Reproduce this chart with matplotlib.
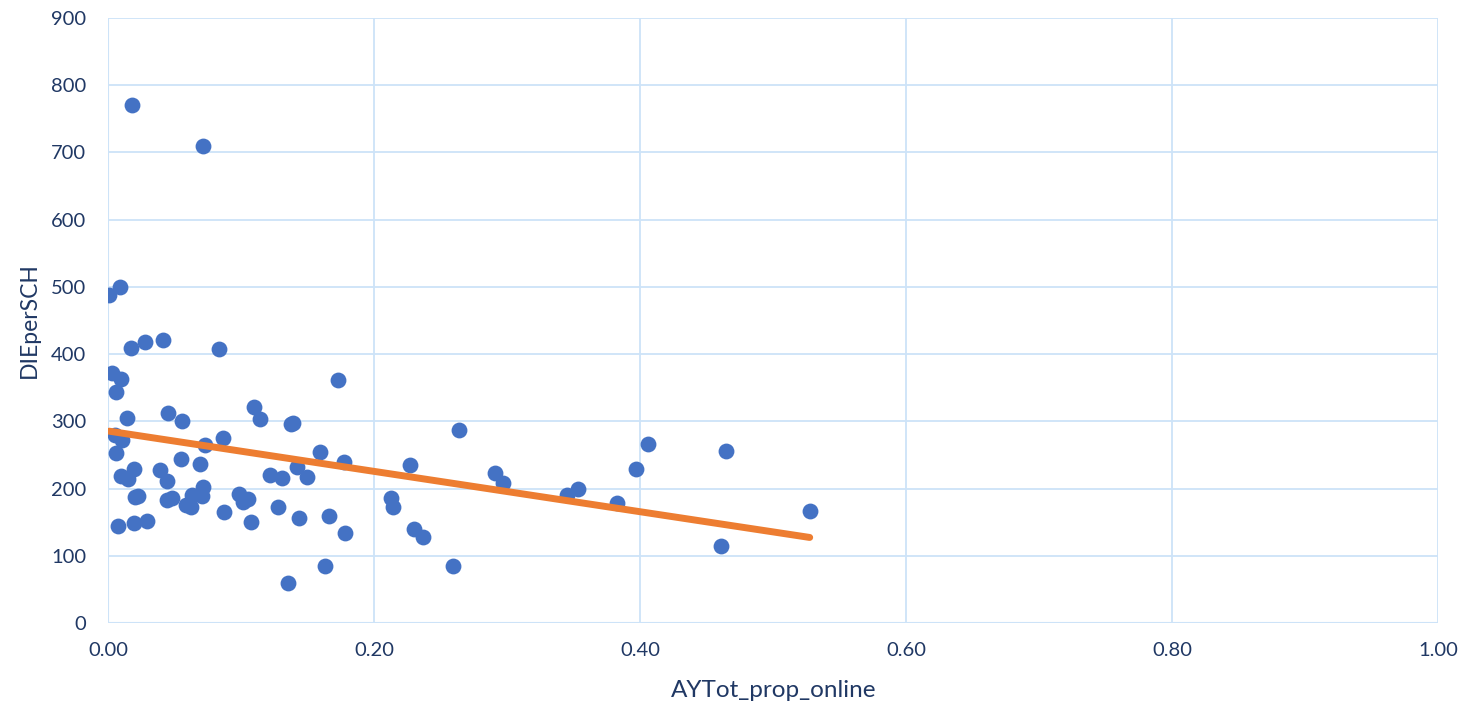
import numpy as np
import matplotlib
matplotlib.use('Agg')
import matplotlib.pyplot as plt

#=====================
# data
#=====================
prop_online = [0.018, 0.071, 0.0004, 0.0087, 0.017, 0.0274, 0.041, 0.083,
               0.0026, 0.0094, 0.0056, 0.0139, 0.045, 0.0553, 0.1094, 0.114,
               0.137, 0.139, 0.1726, 0.0056, 0.005, 0.0105, 0.0726, 0.086,
               0.2635, 0.159, 0.0545, 0.069, 0.177, 0.2267, 0.019, 0.0094,
               0.0147, 0.0387, 0.044, 0.071, 0.1214, 0.1305, 0.1417, 0.1492,
               0.020, 0.022, 0.044, 0.048, 0.063, 0.070, 0.058, 0.062,
               0.087, 0.0985, 0.105, 0.1011, 0.107, 0.1274, 0.1432, 0.166,
               0.178, 0.0071, 0.019, 0.029, 0.135, 0.163, 0.259, 0.2124,
               0.214, 0.23, 0.2365, 0.2906, 0.2966, 0.3447, 0.353, 0.3823,
               0.3966, 0.4056, 0.4643, 0.461, 0.5274]
die_per_sch = [771, 710, 488, 500, 409, 418, 421, 408,
               372, 363, 344, 305, 312, 300, 321, 303,
               296, 297, 361, 253, 280, 272, 265, 275,
               287, 254, 244, 236, 240, 235, 229, 219,
               214, 228, 211, 202, 220, 216, 232, 217,
               188, 189, 183, 186, 190, 189, 176, 172,
               165, 192, 184, 180, 150, 173, 156, 159,
               134, 144, 149, 152, 60, 85, 85, 186,
               172, 140, 128, 223, 208, 190, 199, 178,
               229, 266, 256, 115, 167]

xticks = np.arange(0, 1.01, 0.2)
yticks = np.arange(0, 901, 100)

#=====================
# PLOT
#=====================
plt.rcParams['font.family'] = ['Lato', 'DejaVu Sans']
txtcol = '#203864'
gridcol = '#CDE3F8'

fig = plt.figure(figsize=(14.68, 7.10), dpi=100)
ax = fig.add_axes([0.0739, 0.1225, 0.9057, 0.8521])

x = np.array(prop_online)
y = np.array(die_per_sch)
ax.scatter(x, y, s=130, c='#4472C4', zorder=3, linewidths=0)

# linear trendline
p = np.polyfit(x, y, 1)
xl = np.array([x.min(), x.max()])
ax.plot(xl, np.polyval(p, xl), color='#ED7D31', lw=5, solid_capstyle='round', zorder=4)

ax.set_xlim(0, 1)
ax.set_ylim(0, 900)
ax.set_xticks(xticks)
ax.set_yticks(yticks)
ax.set_xticklabels(['%.2f' % v for v in xticks])
ax.grid(True, color=gridcol, lw=1.3, zorder=0)
for s in ax.spines.values():
    s.set_visible(False)
ax.axvline(0, color=gridcol, lw=1.5, zorder=1)
ax.axhline(0, color=gridcol, lw=1.5, zorder=1)
ax.tick_params(length=0, labelsize=14.5, colors=txtcol)
ax.tick_params(axis='y', pad=16)
ax.tick_params(axis='x', pad=14)

ax.set_xlabel('AYTot_prop_online', fontsize=17.5, color=txtcol, labelpad=15)
ax.set_ylabel('DIEperSCH', fontsize=16.5, color=txtcol, labelpad=8)

fig.savefig('out.png', dpi=100)
